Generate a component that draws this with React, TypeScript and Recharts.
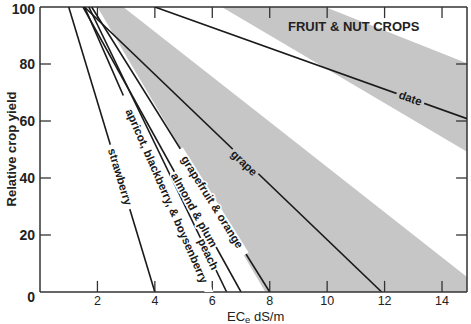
import { ComposedChart, Line, Area, Scatter, XAxis, YAxis, ReferenceLine, Label } from 'recharts';

const FONT = '"Liberation Sans", Arial, sans-serif';
const W = 471;
const H = 324;
const MARGIN = { top: 7, right: 4, left: 0, bottom: 0 };
const Y_AXIS_W = 40;
const X_AXIS_H = 32;
const X_MAX = 14.87;

const xTicks = [2, 4, 6, 8, 10, 12, 14];
const yTicks = [0, 20, 40, 60, 80, 100];
const innerYTicks = [20, 40, 60, 80];

// salt tolerance lines (ECe, relative yield)
const strawberry = [{ x: 1.0, y: 100 }, { x: 4.0, y: 0 }];
const apricot = [{ x: 1.55, y: 100 }, { x: 5.9, y: 0 }];
const peach = [{ x: 1.7, y: 100 }, { x: 6.5, y: 0 }];
const almondPlum = [{ x: 1.5, y: 100 }, { x: 7.0, y: 0 }];
const grapefruitOrange = [{ x: 1.8, y: 100 }, { x: 8.0, y: 0 }];
const grape = [{ x: 1.55, y: 100 }, { x: 11.9, y: 0 }];
const date = [{ x: 4.0, y: 100 }, { x: X_MAX, y: 60.8 }];

// shaded bands, [low, high] at each corner
const grapeBand = [
  { x: 2.0, range: [100, 100] },
  { x: 2.9, range: [84.6, 100] },
  { x: 7.85, range: [0, 60.9] },
  { x: X_MAX, range: [0, 5.3] },
];
const dateBand = [
  { x: 6.33, range: [100, 100] },
  { x: 9.93, range: [78.6, 100] },
  { x: X_MAX, range: [49.2, 80.3] },
];

const lineLabels = [
  { text: 'strawberry', x: 2.79, y: 40.4, line: strawberry },
  { text: 'apricot, blackberry, & boysenberry', x: 4.42, y: 33.7, line: apricot },
  { text: 'almond & plum', x: 5.37, y: 28.8, line: almondPlum },
  { text: 'peach', x: 5.86, y: 13.3, line: peach },
  { text: 'grapefruit & orange', x: 6.0, y: 31.6, line: grapefruitOrange },
  { text: 'grape', x: 7.11, y: 45.3, line: grape },
  { text: 'date', x: 12.9, y: 68, line: date },
];

const crops = [strawberry, apricot, peach, almondPlum, grapefruitOrange, grape, date];

const BAND = '#c6c6c6';
const INK = '#1a1a1a';
const AXIS = '#333';
const LABEL_SIZE = 11.5;

const plotW = W - MARGIN.left - MARGIN.right - Y_AXIS_W;
const plotH = H - MARGIN.top - MARGIN.bottom - X_AXIS_H;
const pxX = plotW / X_MAX;
const pxY = plotH / 100;

const labelData = lineLabels.map(l => {
  const [a, b] = l.line;
  const angle = (Math.atan2((a.y - b.y) * pxY, (b.x - a.x) * pxX) * 180) / Math.PI;
  const halo = l.text === 'grape' || l.text === 'date' ? BAND : '#fff';
  return { ...l, angle, halo };
});

const LineLabel = (props: any) => {
  const { cx, cy, payload } = props;
  const len = payload.text.length * LABEL_SIZE * 0.55;
  return (
    <g transform={`rotate(${payload.angle} ${cx} ${cy})`}>
      <rect x={cx - len / 2 - 2} y={cy - 4} width={len + 4} height={8} fill={payload.halo} />
      <text
        x={cx}
        y={cy}
        textAnchor="middle"
        dominantBaseline="central"
        fontFamily={FONT}
        fontSize={LABEL_SIZE}
        fontWeight="bold"
        fill={INK}
        stroke={payload.halo}
        strokeWidth={3}
        strokeLinejoin="round"
        paintOrder="stroke"
      >
        {payload.text}
      </text>
    </g>
  );
};

const YTick = (props: any) => {
  const { x, y, payload } = props;
  return (
    <text x={x} y={y + (payload.value === 0 ? 5 : 0)} dy="0.35em" textAnchor="end"
      fontFamily={FONT} fontSize={14} fontWeight="bold" fill="#222">
      {payload.value}
    </text>
  );
};

export default function App() {
  return (
    <div style={{ position: 'absolute', left: 0, top: 0, background: '#fff' }}>
      <ComposedChart width={W} height={H} margin={MARGIN}>
        <XAxis type="number" dataKey="x" domain={[0, X_MAX]} allowDataOverflow ticks={xTicks}
          height={X_AXIS_H} tickLine={false} tickSize={0} tickMargin={4}
          axisLine={{ stroke: AXIS, strokeWidth: 1.5 }}
          tick={{ fontSize: 12.5, fill: '#222', fontFamily: FONT }}>
          <Label content={() => (
            <text x={227} y={320.5} fontFamily={FONT} fontSize={13} fill="#222">
              EC<tspan fontSize={9.5} dy={2}>e</tspan><tspan dy={-2}>{'  dS/m'}</tspan>
            </text>
          )} />
        </XAxis>
        <YAxis type="number" dataKey="y" domain={[0, 100]} allowDataOverflow ticks={yTicks}
          width={Y_AXIS_W} tickLine={false} tickSize={0} tickMargin={5}
          axisLine={{ stroke: AXIS, strokeWidth: 1.5 }} tick={<YTick />}>
          <Label content={() => (
            <text x={11} y={149} transform="rotate(-90 11 149)" textAnchor="middle"
              dominantBaseline="central" fontFamily={FONT} fontSize={13} fontWeight="bold" fill="#222">
              Relative crop yield
            </text>
          )} />
        </YAxis>

        <Area data={grapeBand} dataKey="range" type="linear" fill={BAND} fillOpacity={1} stroke="none" isAnimationActive={false} />
        <Area data={dateBand} dataKey="range" type="linear" fill={BAND} fillOpacity={1} stroke="none" isAnimationActive={false} />

        <ReferenceLine y={100} stroke={AXIS} strokeWidth={1.5} />
        <ReferenceLine x={X_MAX} stroke={AXIS} strokeWidth={1.5} />
        {xTicks.map(t => (
          <ReferenceLine key={`b${t}`} segment={[{ x: t, y: 0 }, { x: t, y: 3.9 }]} stroke={AXIS} strokeWidth={1.3} />
        ))}
        {xTicks.map(t => (
          <ReferenceLine key={`t${t}`} segment={[{ x: t, y: 100 }, { x: t, y: 96.1 }]} stroke={AXIS} strokeWidth={1.3} />
        ))}
        {innerYTicks.map(t => (
          <ReferenceLine key={`l${t}`} segment={[{ x: 0, y: t }, { x: 0.38, y: t }]} stroke={AXIS} strokeWidth={1.3} />
        ))}
        {innerYTicks.map(t => (
          <ReferenceLine key={`r${t}`} segment={[{ x: X_MAX, y: t }, { x: X_MAX - 0.38, y: t }]} stroke={AXIS} strokeWidth={1.3} />
        ))}

        {crops.map((c, i) => (
          <Line key={i} data={c} dataKey="y" type="linear" stroke={INK} strokeWidth={1.6}
            dot={false} activeDot={false} isAnimationActive={false} />
        ))}

        <Scatter data={labelData} dataKey="y" shape={<LineLabel />} isAnimationActive={false} />
      </ComposedChart>
      <div style={{ position: 'absolute', left: 288, top: 19, fontFamily: FONT, fontWeight: 'bold', fontSize: 13, color: '#222', whiteSpace: 'nowrap' }}>
        FRUIT &amp; NUT CROPS
      </div>
    </div>
  );
}
